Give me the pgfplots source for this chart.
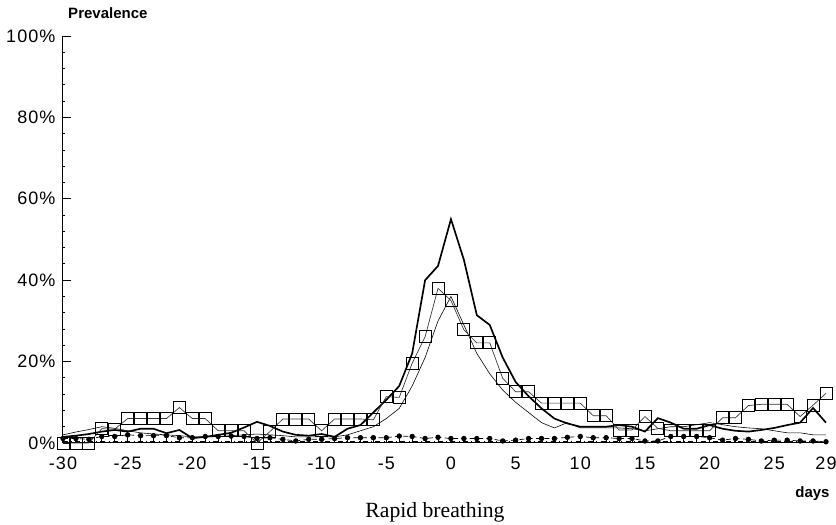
\documentclass[border=0pt]{standalone}
\usepackage{fontspec}
\setmainfont{Liberation Serif}
\newfontfamily\tickfont[LetterSpace=6]{Liberation Sans}
\newfontfamily\labfont{Liberation Sans}
\usepackage{pgfplots}
\usepackage{pgfplotstable}
\pgfplotsset{compat=1.18}

\pgfplotstableread{
d v
-30 0
-29 0
-28 0
-27 3.5
-26 3.4
-25 6
-24 6
-23 6
-22 6
-21 8.7
-20 6
-19 6
-18 3
-17 3
-16 3
-15 0
-14 2.8
-13 5.9
-12 5.9
-11 5.9
-10 3
-9 5.9
-8 5.9
-7 5.9
-6 5.7
-5 11.4
-4 11.2
-3 19.6
-2 26.1
-1 38
0 35
1 27.8
2 24.6
3 24.6
4 15.9
5 12.6
6 12.6
7 9.8
8 9.8
9 9.8
10 9.8
11 6.7
12 6.7
13 3.2
14 3.2
15 6.5
16 3.6
17 3
18 3
19 3
20 3
21 6.2
22 6.2
23 9.2
24 9.5
25 9.5
26 9.5
27 6.5
28 9.3
29 12.2
}\squares

\pgfplotstableread{
d v
-30 1.5
-29 1.8
-28 2.2
-27 2.8
-26 3.2
-25 2.8
-24 3.5
-23 3.5
-22 2.4
-21 3.2
-20 1.2
-19 1.5
-18 2
-17 2.5
-16 3.8
-15 5.2
-14 4.2
-13 2.8
-12 2
-11 1.8
-10 2.2
-9 1.5
-8 3.5
-7 4.4
-6 7.5
-5 10.6
-4 14
-3 22
-2 40
-1 43.5
0 55
1 45
2 31.4
3 29
4 21
5 15
6 11.5
7 8.5
8 6
9 4.8
10 4
11 4
12 4
13 4.4
14 4
15 2.8
16 6.1
17 5
18 3.5
19 3.5
20 4.4
21 3.5
22 3
23 2.8
24 3.2
25 3.7
26 4.4
27 5
28 8.6
29 5
}\thick

\pgfplotstableread{
d v
-30 2
-29 2.7
-28 3.3
-27 4
-26 3.6
-25 3
-24 2.5
-23 2.2
-22 2
-21 1.8
-20 1.5
-19 1.5
-18 1.5
-17 1.8
-16 2
-15 2.2
-14 2
-13 1.8
-12 1.5
-11 1.5
-10 1.5
-9 1.5
-8 2
-7 3
-6 4
-5 6
-4 8.5
-3 14
-2 21
-1 30
0 36
1 29
2 22
3 17
4 13
5 10
6 7.5
7 5
8 3.7
9 5
10 3.7
11 3.7
12 3.7
13 3.7
14 3.5
15 3
16 3.5
17 4
18 4
19 4.5
20 5
21 4.5
22 4
23 3.7
24 3.5
25 3
26 2.5
27 2.5
28 2
29 2
}\thin

\pgfplotstableread{
d v
-30 1.1
-29 1.1
-28 0.9
-27 1.6
-26 1.6
-25 2
-24 1.8
-23 1.8
-22 1.8
-21 1.3
-20 1.3
-19 1.6
-18 1.6
-17 1.7
-16 1.6
-15 1.1
-14 1.3
-13 0.9
-12 0.5
-11 0.9
-10 0.9
-9 1.1
-8 1.3
-7 1.3
-6 1.3
-5 1.3
-4 1.7
-3 1.6
-2 1.1
-1 1.4
0 1.1
1 1.1
2 1.1
3 1.1
4 0.5
5 0.7
6 1.1
7 1.1
8 1.1
9 1.4
10 1.6
11 1.3
12 1.3
13 1.1
14 1.1
15 0.5
16 0.5
17 1.6
18 1.6
19 1.6
20 1.3
21 0.7
22 1.1
23 0.9
24 0.5
25 0.7
26 0.7
27 0.5
28 0.5
29 0.3
}\dots

\pgfplotstableread{
d v
-30 0.4
29 0.4
}\base

\begin{document}
\begin{tikzpicture}
\begin{axis}[
  name=ax,
  scale only axis, width=457.8pt, height=244.2pt,
  xmin=-30, xmax=29, ymin=0, ymax=100,
  axis x line=bottom, axis y line=left,
  axis line style={-, line width=0.6pt},
  xtick={-30,-25,-20,-15,-10,-5,0,5,10,15,20,25,29},
  xticklabels={-30,-25,-20,-15,-10,-5,0,5,10,15,20,25,29},
  ytick={0,20,40,60,80,100},
  yticklabels={0\%,20\%,40\%,60\%,80\%,100\%},
  tick label style={font=\tickfont\fontsize{10.8}{12}\selectfont},
  xticklabel style={yshift=-5pt},
  yticklabel style={xshift=-1pt},
  tick align=inside,
  x tick style={draw=none},
  major tick length=5pt,
  minor y tick num=4,
  minor tick length=1.5pt,
  tick style={black, line width=0.5pt},
  clip=false,
]
\addplot[black, line width=0.5pt, dash dot] table[x=d,y=v]{\base};
\addplot[black, line width=0.35pt] table[x=d,y=v]{\thin};
\addplot[black, line width=1pt] table[x=d,y=v]{\thick};
\addplot[black, line width=0.4pt, ycomb] table[x=d,y=v]{\dots};
\addplot[black, line width=0.4pt, densely dashed, mark=*, mark size=1.4pt, mark options={solid}] table[x=d,y=v]{\dots};
\addplot[black!80, line width=0.4pt, mark=square, mark size=3.6pt, mark options={solid, black, line width=0.5pt}] table[x=d,y=v]{\squares};
\node[anchor=base west, font=\labfont\bfseries\fontsize{9}{10}\selectfont, inner sep=0pt] at (axis cs:-29.62,104.2) {Prevalence};
\node[anchor=base east, font=\labfont\bfseries\fontsize{9}{10}\selectfont, inner sep=0pt] at (axis cs:29.3,-13.3) {days};
\node[anchor=base, font=\fontsize{13}{15}\selectfont, inner sep=0pt] at (axis cs:-1.24,-18.4) {Rapid breathing};
\end{axis}
\pgfresetboundingbox
\path ([shift={(-37.8pt,-49.2pt)}]ax.south west) rectangle ([shift={(463.8pt,265.8pt)}]ax.south west);
\end{tikzpicture}
\end{document}
